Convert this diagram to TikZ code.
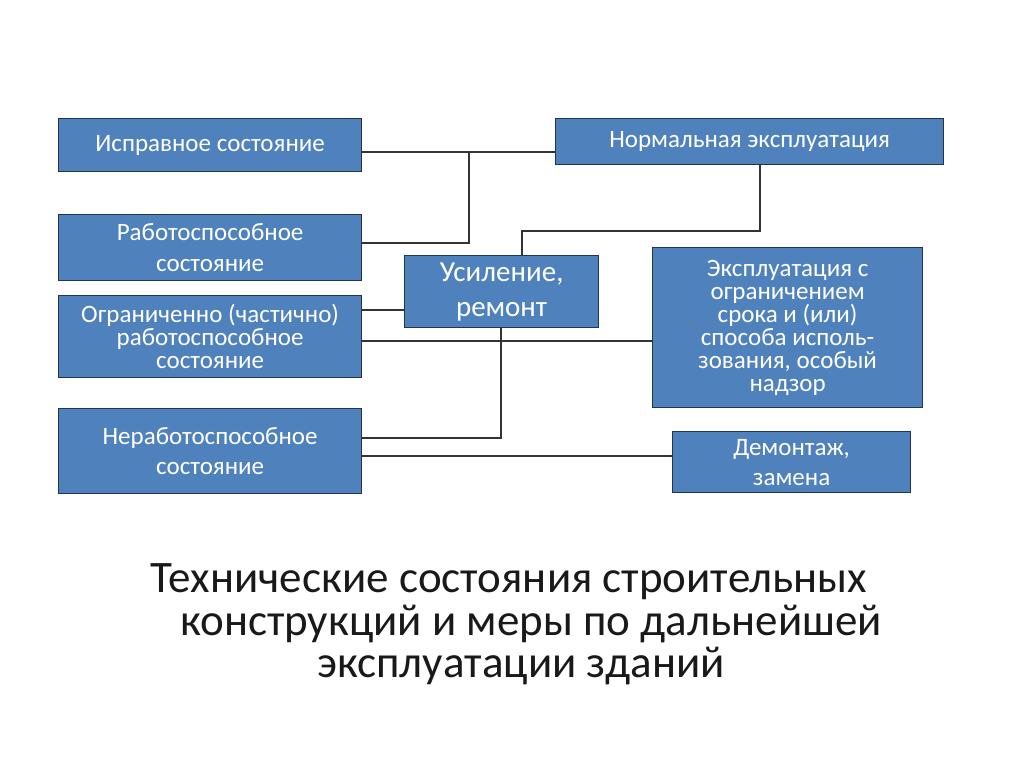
\documentclass[tikz,border=0pt]{standalone}
\usepackage{fontspec}
\setmainfont{Carlito}
\definecolor{boxfill}{HTML}{4F81BD}
\definecolor{boxedge}{HTML}{1F3550}
\definecolor{wire}{HTML}{333333}
\begin{document}
\begin{tikzpicture}[x=1pt,y=-1pt,
  box/.style={draw=boxedge,fill=boxfill,line width=1.2pt,text=white,inner sep=0pt,align=center,anchor=north west},
  wire/.style={draw=wire,line width=1.3pt},
  title/.style={font=\fontsize{45}{43}\selectfont,text=black!90,anchor=base}]
\useasboundingbox[fill=white] (0,0) rectangle (1024,767);
% boxes
\node[box,minimum width=303,minimum height=53,font=\fontsize{25}{31}\selectfont] (ispr) at (58,118) {Исправное состояние};
\node[box,minimum width=303,minimum height=66,font=\fontsize{25}{31}\selectfont] (rab) at (58,214) {Работоспособное\\состояние};
\node[box,minimum width=303,minimum height=82,font=\fontsize{25}{23}\selectfont] (ogr) at (58,295) {Ограниченно (частично)\\работоспособное\\состояние};
\node[box,minimum width=303,minimum height=85,font=\fontsize{25}{30}\selectfont] (nerab) at (58,408) {Неработоспособное\\состояние};
\node[box,minimum width=388,minimum height=46,font=\fontsize{25}{31}\selectfont] (norm) at (555,118) {Нормальная эксплуатация};
\node[box,minimum width=194,minimum height=72,font=\fontsize{29}{35}\selectfont] (usil) at (404,255) {Усиление,\\ремонт};
\node[box,minimum width=270,minimum height=160,font=\fontsize{25}{23}\selectfont] (ekspl) at (652,247) {Эксплуатация с\\ограничением\\срока и (или)\\способа исполь-\\зования, особый\\надзор};
\node[box,minimum width=238,minimum height=61,font=\fontsize{25}{30}\selectfont] (dem) at (672,431) {Демонтаж,\\замена};
% connector helpers
\coordinate (j1) at (469,152);
\coordinate (j2) at (760,231);
\coordinate (j3) at (522,231);
% connectors
\draw[wire] (ispr.east |- j1) -- (norm.west |- j1);
\draw[wire] (j1) |- (rab.east |- 0,243);
\draw[wire] (norm.south -| j2) -- (j2) -- (j3) -- (usil.north -| j3);
\draw[wire] (ogr.east |- 0,310) -- (usil.west |- 0,310);
\draw[wire] (ogr.east |- 0,341) -- (ekspl.west |- 0,341);
\draw[wire] (usil.south -| 501,0) |- (nerab.east |- 0,438);
\draw[wire] (nerab.east |- 0,456) -- (dem.west |- 0,456);
% title
\node[title] (t1) at (509,592) {Технические состояния строительных};
\node[title] (t2) at (531,635) {конструкций и меры по дальнейшей};
\node[title] (t3) at (521,677) {эксплуатации зданий};
\end{tikzpicture}
\end{document}
